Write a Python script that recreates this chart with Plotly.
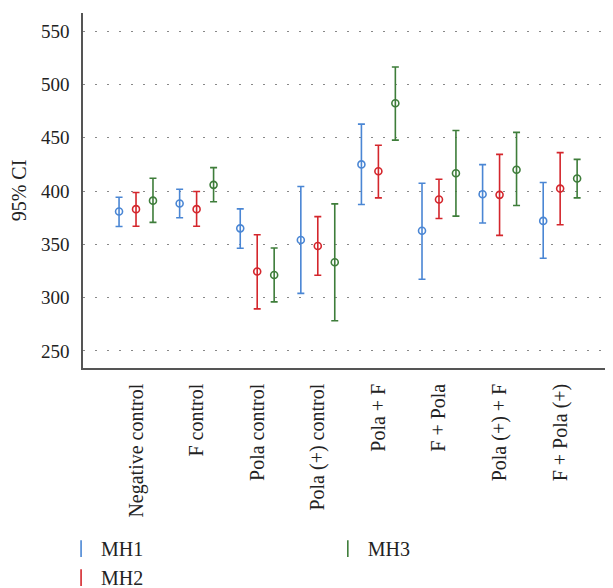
import plotly.graph_objects as go

categories = ["Negative control", "F control", "Pola control", "Pola (+) control",
              "Pola + F", "F + Pola", "Pola (+) + F", "F + Pola (+)"]

mh1_mean = [380.8, 388.3, 365.0, 354.0, 425.0, 362.8, 397.0, 372.0]
mh1_low  = [366.8, 375.0, 346.3, 304.0, 387.4, 317.3, 370.0, 337.0]
mh1_high = [394.2, 401.7, 383.3, 404.2, 462.8, 407.3, 424.8, 408.0]

mh2_mean = [383.0, 383.0, 324.5, 348.4, 418.5, 392.0, 396.4, 402.3]
mh2_low  = [367.0, 367.0, 289.5, 321.0, 393.6, 374.3, 358.4, 368.4]
mh2_high = [398.6, 399.5, 359.0, 376.0, 443.0, 411.0, 434.4, 436.0]

mh3_mean = [391.0, 405.8, 321.3, 333.2, 482.4, 416.7, 420.0, 411.7]
mh3_low  = [370.6, 390.0, 296.0, 278.3, 447.8, 376.5, 386.4, 393.6]
mh3_high = [412.0, 422.0, 346.5, 388.0, 516.4, 456.8, 455.0, 429.7]

y_ticks = [250, 300, 350, 400, 450, 500, 550]

series = [
    ("MH1", mh1_mean, mh1_low, mh1_high, "#4a86d4", -0.28, "legend"),
    ("MH2", mh2_mean, mh2_low, mh2_high, "#d4262c", 0.0, "legend"),
    ("MH3", mh3_mean, mh3_low, mh3_high, "#3e7d3a", 0.28, "legend2"),
]

FONT = "Liberation Serif"
TXT = "#222"
fig = go.Figure()
idx = list(range(len(categories)))
for name, mean, low, high, color, off, lg in series:
    fig.add_trace(go.Scatter(
        x=[i + off for i in idx], y=mean, mode="markers", name=name,
        showlegend=False,
        marker=dict(symbol="circle-open", size=7, color=color, line=dict(width=1.6, color=color)),
        error_y=dict(type="data", symmetric=False,
                     array=[h - m for h, m in zip(high, mean)],
                     arrayminus=[m - l for m, l in zip(mean, low)],
                     color=color, thickness=1.6, width=3.5),
    ))
    fig.add_trace(go.Scatter(
        x=[None], y=[None], mode="markers", name=name, legend=lg,
        marker=dict(symbol="line-ns-open", size=12, color=color, line=dict(width=1.6, color=color)),
    ))

fig.update_layout(
    width=605, height=580,
    margin=dict(l=75, r=8, t=5, b=220, autoexpand=False),
    paper_bgcolor="white", plot_bgcolor="white",
    font=dict(family=FONT, size=20, color=TXT),
    xaxis=dict(
        range=[-0.875, 7.74], tickvals=idx, ticktext=categories, tickangle=-90,
        showgrid=False, zeroline=False, showline=True, linecolor="#555", linewidth=1.5,
        ticks="", ticklabelstandoff=6, automargin=False,
        tickfont=dict(family=FONT, size=20, color=TXT),
    ),
    yaxis=dict(
        range=[234, 567], tickvals=y_ticks, showgrid=True, gridcolor="#888",
        griddash="2px,10px", gridwidth=1.3, zeroline=False, showline=True,
        linecolor="#555", linewidth=1.5, ticks="", ticklabelstandoff=8, automargin=False,
        tickfont=dict(family=FONT, size=19, color=TXT),
        title=dict(text="95% CI", font=dict(family=FONT, size=20, color=TXT)),
    ),
    legend=dict(x=-0.042, y=-0.454, xref="paper", yref="paper", xanchor="left", yanchor="top",
                orientation="v", font=dict(family=FONT, size=20, color=TXT),
                bgcolor="rgba(0,0,0,0)", itemwidth=30, tracegroupgap=0),
    legend2=dict(x=0.469, y=-0.454, xref="paper", yref="paper", xanchor="left", yanchor="top",
                 orientation="v", font=dict(family=FONT, size=20, color=TXT),
                 bgcolor="rgba(0,0,0,0)", itemwidth=30),
)

fig.write_html("out.html")
